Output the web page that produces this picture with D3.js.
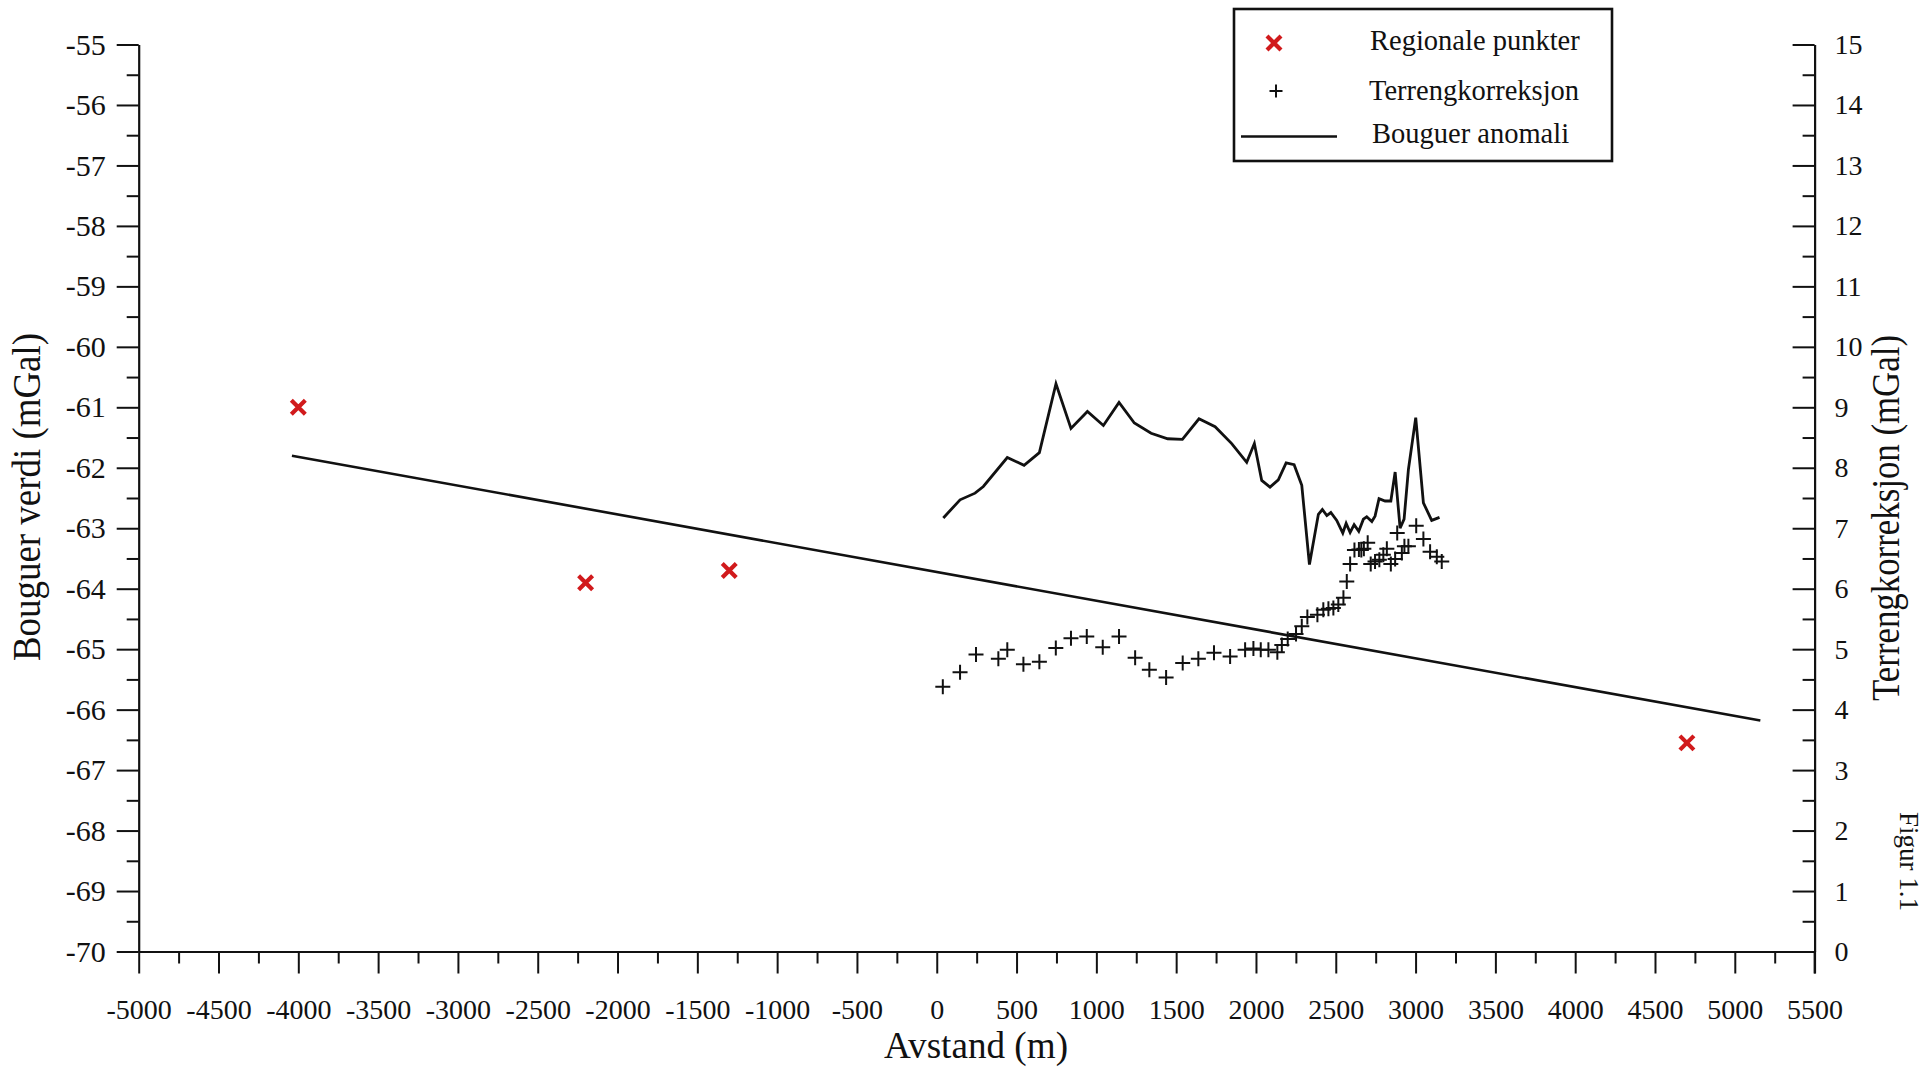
<!DOCTYPE html>
<html>
<head>
<meta charset="utf-8">
<script src="https://cdn.jsdelivr.net/npm/d3@7"></script>
<style>
  html, body { margin: 0; padding: 0; background: #ffffff; }
  svg { display: block; }
  text { font-family: "Liberation Serif", "Times New Roman", serif; fill: #111; }
</style>
</head>
<body>
<svg id="chart" width="1925" height="1068"></svg>
<script>
// Distance along the profile (m)
const xTicks = d3.range(-5000, 5501, 500);
const xMinorTicks = d3.range(-4750, 5500, 500);
// Bouguer value axis (mGal)
const leftTicks = d3.range(-70, -54, 1);
const leftMinorTicks = d3.range(-69.5, -55, 1);
// Terrain correction axis (mGal)
const rightTicks = d3.range(0, 16, 1);
const rightMinorTicks = d3.range(0.5, 15, 1);

// Regional stations
const regionalX = [-4000, -2200, -1300, 4700];
const regionalY = [-61.0, -63.9, -63.7, -66.55];

// Regional trend line
const trendX = [-4040, 5160];
const trendY = [-61.8, -66.18];

// Bouguer anomaly along the profile
const anomalyX = [41, 146, 240, 292, 442, 547, 643, 747, 841, 944, 1044, 1142, 1238, 1343, 1447, 1539,
  1643, 1744, 1848, 1942, 1990, 2036, 2088, 2140, 2189, 2239, 2287, 2335, 2391, 2416, 2444, 2469, 2506,
  2544, 2565, 2590, 2615, 2644, 2673, 2694, 2726, 2746, 2771, 2809, 2845, 2872, 2903, 2928, 2955, 3001,
  3049, 3101, 3150];
const anomalyY = [-62.83, -62.53, -62.42, -62.31, -61.83, -61.96, -61.75, -60.61, -61.35, -61.07, -61.30,
  -60.92, -61.26, -61.43, -61.52, -61.53, -61.19, -61.32, -61.60, -61.91, -61.60, -62.21, -62.32, -62.20,
  -61.92, -61.95, -62.29, -63.60, -62.77, -62.69, -62.79, -62.74, -62.87, -63.08, -62.92, -63.07, -62.94,
  -63.05, -62.85, -62.81, -62.89, -62.80, -62.51, -62.55, -62.55, -62.07, -63.00, -62.85, -62.03, -61.17,
  -62.58, -62.87, -62.82];

// Terrain correction at each station
const terrainX = [38, 146, 246, 386, 442, 543, 643, 746, 841, 940, 1040, 1142, 1243, 1332, 1437, 1541,
  1639, 1737, 1838, 1932, 1984, 2030, 2078, 2134, 2162, 2199, 2251, 2287, 2322, 2385, 2422, 2454, 2485,
  2516, 2548, 2569, 2590, 2617, 2645, 2660, 2676, 2700, 2719, 2746, 2773, 2798, 2820, 2845, 2872, 2885,
  2914, 2930, 2955, 3004, 3049, 3091, 3133, 3164];
const terrainY = [4.38, 4.62, 4.91, 4.84, 4.99, 4.75, 4.79, 5.02, 5.18, 5.21, 5.03, 5.21, 4.86, 4.66, 4.53,
  4.77, 4.84, 4.94, 4.88, 4.99, 5.01, 4.99, 4.99, 4.95, 5.07, 5.17, 5.25, 5.38, 5.53, 5.57, 5.65, 5.67,
  5.68, 5.74, 5.85, 6.12, 6.41, 6.64, 6.65, 6.64, 6.66, 6.76, 6.41, 6.45, 6.48, 6.56, 6.66, 6.41, 6.49,
  6.92, 6.59, 6.70, 6.70, 7.04, 6.82, 6.61, 6.53, 6.45];

const legendLabels = ["Regionale punkter", "Terrengkorreksjon", "Bouguer anomali"];

const RED = "#d11a1c";
const svg = d3.select("#chart");

const x = d3.scaleLinear().domain([-5000, 5500]).range([138.7, 1814.6]);
const yL = d3.scaleLinear().domain([-70, -55]).range([951.5, 44.5]);
const yR = d3.scaleLinear().domain([0, 15]).range([951.5, 44.5]);

const fmt = d => String(d);

function styleAxis(g, fontSize) {
  g.select(".domain").attr("stroke", "#111").attr("stroke-width", 2.2);
  g.selectAll(".tick line").attr("stroke", "#111").attr("stroke-width", 2);
  g.selectAll(".tick text").style("font-size", fontSize + "px").attr("fill", "#111");
}

// Minor ticks (drawn first, no labels)
svg.append("g").attr("transform", `translate(0,${yL(-70)})`)
  .call(d3.axisBottom(x).tickValues(xMinorTicks).tickSize(12).tickFormat(""))
  .call(g => { styleAxis(g, 1); g.select(".domain").remove(); });
svg.append("g").attr("transform", `translate(${x(-5000)},0)`)
  .call(d3.axisLeft(yL).tickValues(leftMinorTicks).tickSize(12).tickFormat(""))
  .call(g => { styleAxis(g, 1); g.select(".domain").remove(); });
svg.append("g").attr("transform", `translate(${x(5500)},0)`)
  .call(d3.axisRight(yR).tickValues(rightMinorTicks).tickSize(-12).tickFormat(""))
  .call(g => { styleAxis(g, 1); g.select(".domain").remove(); });

// Major axes
svg.append("g").attr("transform", `translate(0,${yL(-70)})`)
  .call(d3.axisBottom(x).tickValues(xTicks).tickSize(22).tickSizeOuter(0).tickPadding(26).tickFormat(fmt))
  .call(g => styleAxis(g, 28));
svg.append("g").attr("transform", `translate(${x(-5000)},0)`)
  .call(d3.axisLeft(yL).tickValues(leftTicks).tickSize(22).tickSizeOuter(0).tickPadding(11).tickFormat(fmt))
  .call(g => styleAxis(g, 30));
svg.append("g").attr("transform", `translate(${x(5500)},0)`)
  .call(d3.axisRight(yR).tickValues(rightTicks).tickSize(-22).tickSizeOuter(0).tickPadding(20).tickFormat(fmt))
  .call(g => styleAxis(g, 28));
// 5500 tick reaches below the bottom axis
svg.append("line")
  .attr("x1", x(5500)).attr("x2", x(5500))
  .attr("y1", yL(-70)).attr("y2", yL(-70) + 22)
  .attr("stroke", "#111").attr("stroke-width", 2);

// Axis titles
svg.append("text")
  .attr("x", 976).attr("y", 1058)
  .attr("text-anchor", "middle")
  .attr("textLength", 184).attr("lengthAdjust", "spacingAndGlyphs")
  .style("font-size", "37px")
  .text("Avstand (m)");
svg.append("text")
  .attr("transform", "translate(40,497) rotate(-90)")
  .attr("text-anchor", "middle")
  .attr("textLength", 328).attr("lengthAdjust", "spacingAndGlyphs")
  .style("font-size", "40px")
  .text("Bouguer verdi (mGal)");
svg.append("text")
  .attr("transform", "translate(1899,518) rotate(-90)")
  .attr("text-anchor", "middle")
  .attr("textLength", 366).attr("lengthAdjust", "spacingAndGlyphs")
  .style("font-size", "40px")
  .text("Terrengkorreksjon (mGal)");
svg.append("text")
  .attr("transform", "translate(1900,812) rotate(90)")
  .attr("text-anchor", "start")
  .style("font-size", "27px")
  .text("Figur 1.1");

// Regional trend line
const trend = trendX.map((d, i) => [d, trendY[i]]);
svg.append("path")
  .datum(trend)
  .attr("fill", "none").attr("stroke", "#111").attr("stroke-width", 2.6)
  .attr("d", d3.line().x(d => x(d[0])).y(d => yL(d[1])));

// Bouguer anomaly profile
const anomaly = anomalyX.map((d, i) => [d, anomalyY[i]]);
svg.append("path")
  .datum(anomaly)
  .attr("fill", "none").attr("stroke", "#111").attr("stroke-width", 2.8)
  .attr("stroke-linejoin", "miter")
  .attr("d", d3.line().x(d => x(d[0])).y(d => yL(d[1])));

// Terrain correction markers (+)
const plusPath = s => `M${-s},0H${s}M0,${-s}V${s}`;
const terrain = terrainX.map((d, i) => [d, terrainY[i]]);
svg.append("g").selectAll("path")
  .data(terrain).join("path")
  .attr("transform", d => `translate(${x(d[0])},${yR(d[1])})`)
  .attr("d", plusPath(7.5))
  .attr("fill", "none").attr("stroke", "#111").attr("stroke-width", 2);

// Regional stations (×)
const crossPath = s => `M${-s},${-s}L${s},${s}M${-s},${s}L${s},${-s}`;
const regional = regionalX.map((d, i) => [d, regionalY[i]]);
svg.append("g").selectAll("path")
  .data(regional).join("path")
  .attr("transform", d => `translate(${x(d[0])},${yL(d[1])})`)
  .attr("d", crossPath(7))
  .attr("fill", "none").attr("stroke", RED).attr("stroke-width", 4.2);

// Legend
const legend = svg.append("g");
legend.append("rect")
  .attr("x", 1234).attr("y", 9).attr("width", 378).attr("height", 152)
  .attr("fill", "#fff").attr("stroke", "#111").attr("stroke-width", 2.6);
legend.append("path")
  .attr("transform", "translate(1274,43)")
  .attr("d", crossPath(7))
  .attr("fill", "none").attr("stroke", RED).attr("stroke-width", 4.2);
legend.append("path")
  .attr("transform", "translate(1276,91)")
  .attr("d", plusPath(6.5))
  .attr("fill", "none").attr("stroke", "#111").attr("stroke-width", 2);
legend.append("line")
  .attr("x1", 1241).attr("x2", 1337).attr("y1", 136.5).attr("y2", 136.5)
  .attr("stroke", "#111").attr("stroke-width", 2.6);
const legendY = [50, 100, 143];
const legendX = [1370, 1369, 1372];
legendLabels.forEach((t, i) => {
  legend.append("text")
    .attr("x", legendX[i]).attr("y", legendY[i])
    .style("font-size", "28.5px")
    .text(t);
});
</script>
</body>
</html>
